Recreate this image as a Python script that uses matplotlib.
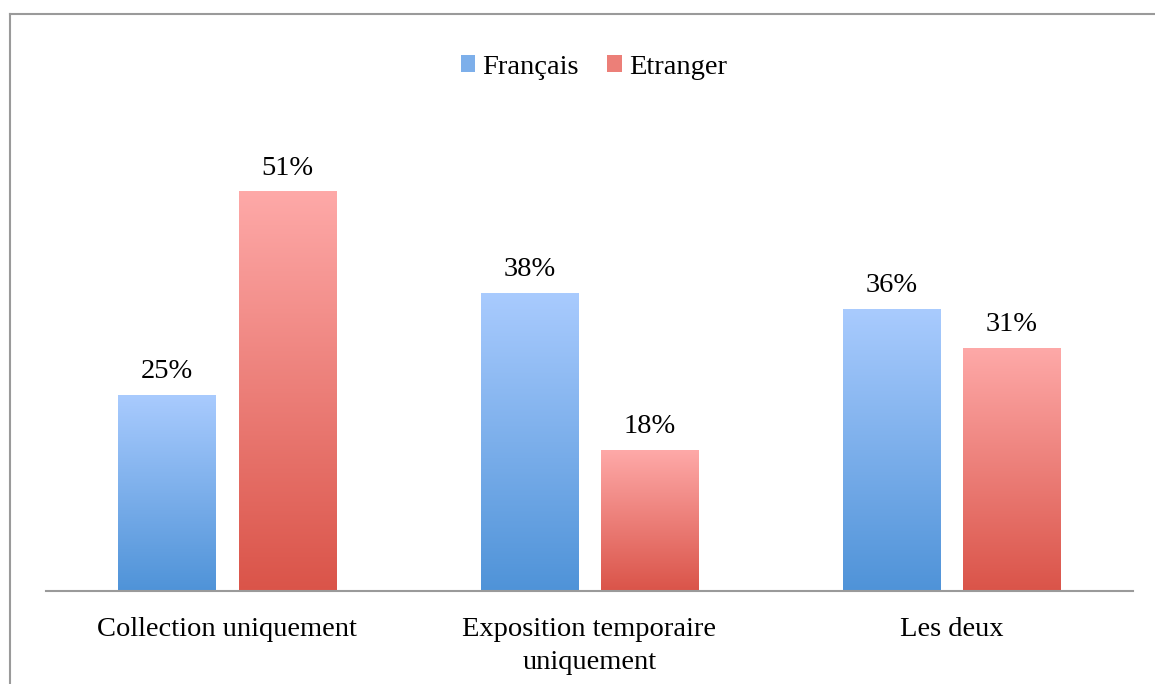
import numpy as np
import matplotlib
matplotlib.use("Agg")
from matplotlib import pyplot as plt
from matplotlib.colors import LinearSegmentedColormap
from matplotlib.patches import Patch
from matplotlib.lines import Line2D

categories = ["Collection uniquement", "Exposition temporaire\nuniquement", "Les deux"]
francais = [0.25, 0.38, 0.36]
etranger = [0.51, 0.18, 0.31]
series_names = ["Français", "Etranger"]

plt.rcParams['font.family'] = ['Liberation Serif', 'DejaVu Serif']
taille = 20.5

fig = plt.figure(figsize=(11.55, 6.84), dpi=100)
ax = fig.add_axes([46 / 1155, 1 - 591 / 684, (1133 - 46) / 1155, (591 - 121.2) / 684])

x = np.arange(len(categories))
largeur = 0.268
decalage = 0.166

# degrades (haut -> bas)
cmap_bleu = LinearSegmentedColormap.from_list("bleu", ["#4F93D8", "#A9CBFE"])
cmap_rouge = LinearSegmentedColormap.from_list("rouge", ["#DA5449", "#FEA9A8"])
grad = np.linspace(0, 1, 256).reshape(-1, 1)

barres_fr = ax.bar(x - decalage, francais, largeur, color="none", edgecolor="none")
barres_et = ax.bar(x + decalage, etranger, largeur, color="none", edgecolor="none")

for barres, cmap in [(barres_fr, cmap_bleu), (barres_et, cmap_rouge)]:
    for b in barres:
        x0, y0 = b.get_x(), b.get_y()
        w, h = b.get_width(), b.get_height()
        ax.imshow(grad, cmap=cmap, origin="lower", aspect="auto",
                  extent=[x0, x0 + w, y0, y0 + h], zorder=2)
        ax.annotate(f"{h:.0%}", (x0 + w / 2, h), xytext=(0, 8),
                    textcoords="offset points", ha="center", va="bottom",
                    fontsize=taille, color="black")

ax.set_xlim(-0.5, len(categories) - 0.5)
ax.set_ylim(0, 0.6)
ax.set_xticks(x)
ax.set_xticklabels(categories, fontsize=taille, linespacing=1.38)
ax.tick_params(axis="x", length=0, pad=19)
ax.set_yticks([])
for s in ["top", "right", "left"]:
    ax.spines[s].set_visible(False)
ax.spines["bottom"].set_color("#9a9a9a")
ax.spines["bottom"].set_linewidth(1.5)

handles = [Patch(facecolor="#7DAFEA", edgecolor="none"),
           Patch(facecolor="#EC7F78", edgecolor="none")]
fig.legend(handles, series_names, loc="center", bbox_to_anchor=(594 / 1155, 1 - 67 / 684),
           ncol=2, frameon=False, fontsize=taille, handlelength=0.5, handleheight=0.5,
           handletextpad=0.25, columnspacing=1.0)

# cadre du graphique
fig.add_artist(Line2D([10 / 1155, 10 / 1155], [0, 1 - 14 / 684], transform=fig.transFigure,
                      color="#9a9a9a", linewidth=1.5))
fig.add_artist(Line2D([10 / 1155, 1], [1 - 14 / 684, 1 - 14 / 684], transform=fig.transFigure,
                      color="#9a9a9a", linewidth=1.5))

fig.savefig("out.png", dpi=100)
